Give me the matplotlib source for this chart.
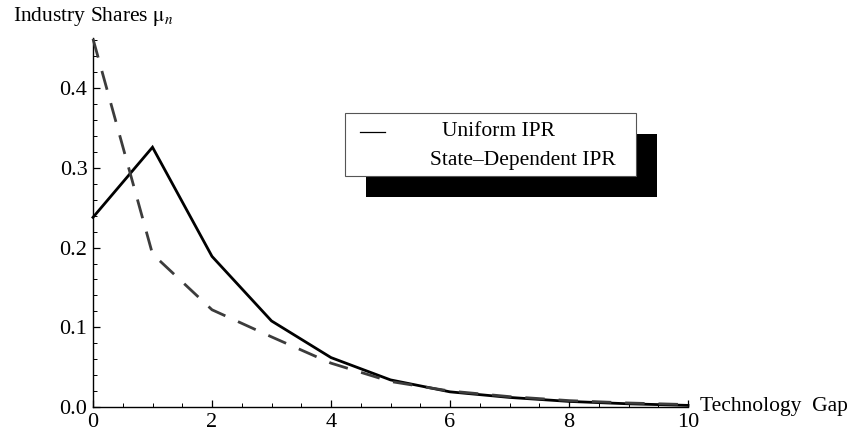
import numpy as np
import matplotlib.pyplot as plt
from matplotlib.patches import Rectangle
from matplotlib.lines import Line2D
from matplotlib.ticker import MultipleLocator

plt.rcParams['font.family'] = ['Liberation Serif', 'DejaVu Serif']
plt.rcParams['mathtext.fontset'] = 'stix'

gap = np.arange(0, 11)
uniform_ipr = [0.238, 0.326, 0.189, 0.108, 0.062, 0.034, 0.019, 0.012, 0.007, 0.004, 0.002]
state_ipr = [0.462, 0.192, 0.122, 0.088, 0.055, 0.032, 0.020, 0.013, 0.008, 0.005, 0.003]

fig = plt.figure(figsize=(8.47, 4.32), dpi=100, facecolor='white')
ax = fig.add_axes([0.1098, 0.0579, 0.7025, 0.854])

ax.plot(gap, uniform_ipr, color='black', lw=2.0, solid_joinstyle='miter', clip_on=False, zorder=3)
ax.plot(gap, state_ipr, color='#3c3c3c', lw=2.0, dashes=(7, 5), clip_on=False, zorder=3)

ax.set_xlim(0, 10)
ax.set_ylim(0, 0.463)
for s in ['top', 'right']:
    ax.spines[s].set_visible(False)
for s in ['left', 'bottom']:
    ax.spines[s].set_linewidth(1.0)

ax.xaxis.set_major_locator(MultipleLocator(2))
ax.xaxis.set_minor_locator(MultipleLocator(0.5))
ax.yaxis.set_major_locator(MultipleLocator(0.1))
ax.yaxis.set_minor_locator(MultipleLocator(0.02))
ax.set_yticks([0.0, 0.1, 0.2, 0.3, 0.4])
ax.set_yticklabels(['0.0', '0.1', '0.2', '0.3', '0.4'])
ax.tick_params(which='major', direction='in', length=5, width=0.9, labelsize=16)
ax.tick_params(which='minor', direction='in', length=3, width=0.7)
ax.tick_params(axis='x', which='major', pad=4)
ax.tick_params(axis='y', which='major', pad=4)

fig.text(13 / 847, 1 - 17 / 432, r'Industry Shares $\mathrm{\mu}_n$', fontsize=15.5,
         ha='left', va='center')
fig.text(700 / 847, 1 - 407 / 432, 'Technology  Gap', fontsize=15.5, ha='left', va='center')

# legend with drop shadow
fig.add_artist(Rectangle((366 / 847, 1 - 197 / 432), 291 / 847, 63 / 432,
                         transform=fig.transFigure, facecolor='black', edgecolor='none'))
fig.add_artist(Rectangle((345 / 847, 1 - 176 / 432), 291 / 847, 63 / 432,
                         transform=fig.transFigure, facecolor='white', edgecolor='#555555', lw=0.8))
fig.add_artist(Line2D([360 / 847, 385 / 847], [1 - 132 / 432, 1 - 132 / 432],
                      transform=fig.transFigure, color='black', lw=0.9))
fig.text(442 / 847, 1 - 132 / 432, 'Uniform IPR', fontsize=15.5, ha='left', va='center')
fig.text(430 / 847, 1 - 160 / 432, 'State\u2013Dependent IPR', fontsize=15.5, ha='left', va='center')

fig.savefig('out.png', dpi=100, facecolor='white')
